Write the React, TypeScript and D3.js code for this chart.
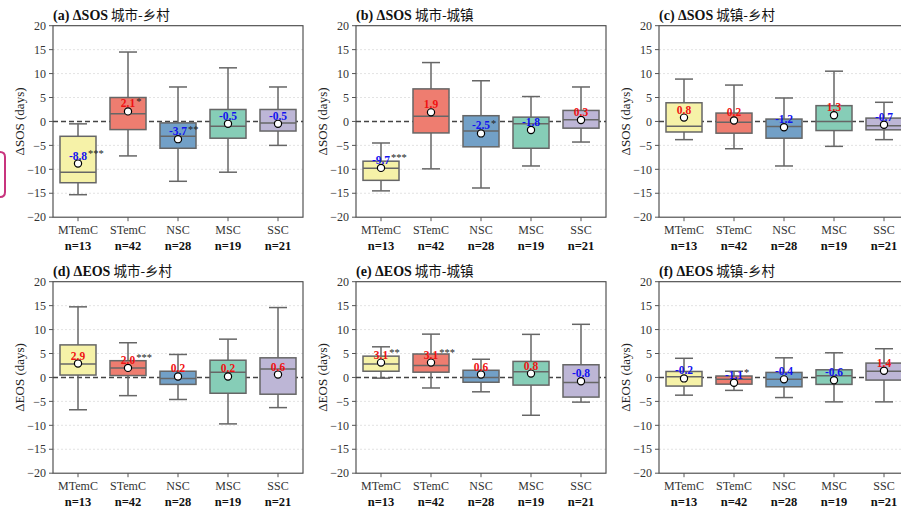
import React from "react";
import * as d3 from "d3";

const categories = ["MTemC", "STemC", "NSC", "MSC", "SSC"];
const sampleSizes = [13, 42, 28, 19, 21];
const yTicks = [-20, -15, -10, -5, 0, 5, 10, 15, 20];
const boxColors = ["#f6f2a8", "#ee7d70", "#72a0c7", "#86cdb7", "#bdb6d6"];

const panelLetters = ["(a)", "(b)", "(c)", "(d)", "(e)", "(f)"];
const panelVars = ["ΔSOS", "ΔSOS", "ΔSOS", "ΔEOS", "ΔEOS", "ΔEOS"];
const panelPairs = ["城市-乡村", "城市-城镇", "城镇-乡村", "城市-乡村", "城市-城镇", "城镇-乡村"];

// each row: [lower whisker, Q1, median, Q3, upper whisker]
const sosCityRural = [[-15.3, -12.8, -10.6, -3.1, -0.5], [-7.2, -1.7, 1.6, 5.0, 14.5], [-12.5, -5.6, -3.1, -0.3, 7.2], [-10.6, -3.5, -1.0, 2.5, 11.2], [-5.0, -2.0, -0.3, 2.5, 7.2]];
const sosCityTown = [[-14.5, -12.3, -9.75, -8.3, -4.5], [-9.9, -2.4, 1.1, 6.8, 12.3], [-13.9, -5.3, -2.0, 1.2, 8.5], [-9.3, -5.6, -0.5, 0.9, 5.2], [-4.3, -1.4, 0.35, 2.3, 7.2]];
const sosTownRural = [[-3.8, -2.2, -1.0, 3.9, 8.85], [-5.7, -2.45, -0.15, 1.75, 7.6], [-9.3, -3.5, -1.05, 0.5, 4.9], [-5.2, -1.9, 0.0, 3.3, 10.5], [-3.8, -1.75, -0.9, 0.7, 4.0]];
const eosCityRural = [[-6.75, 0.5, 2.8, 6.8, 14.75], [-3.8, 0.4, 2.0, 3.5, 7.25], [-4.6, -1.45, -0.2, 1.3, 4.8], [-9.7, -3.3, 1.1, 3.6, 8.0], [-6.3, -3.5, 1.75, 4.1, 14.6]];
const eosCityTown = [[-0.15, 1.3, 2.8, 4.45, 6.4], [-2.2, 1.1, 2.5, 4.9, 9.05], [-3.0, -1.0, 0.0, 1.5, 3.8], [-7.9, -1.6, 1.2, 3.35, 9.0], [-5.15, -4.1, -1.05, 2.65, 11.1]];
const eosTownRural = [[-3.7, -1.8, 0.15, 1.25, 4.0], [-2.7, -1.4, -0.35, 0.3, 1.3], [-4.2, -1.95, -0.4, 1.05, 4.1], [-5.1, -1.45, 0.35, 1.6, 5.15], [-5.1, -0.55, 1.3, 3.0, 6.0]];

const meansA = [-8.8, 2.1, -3.7, -0.5, -0.5];
const meansB = [-9.7, 1.9, -2.5, -1.8, 0.3];
const meansC = [0.8, 0.2, -1.2, 1.3, -0.7];
const meansD = [2.9, 2.0, 0.2, 0.2, 0.6];
const meansE = [3.1, 3.1, 0.6, 0.8, -0.8];
const meansF = [-0.2, -1.1, -0.4, -0.6, 1.4];

const starsA = ["***", "*", "**", "", ""];
const starsB = ["***", "", "*", "", ""];
const starsC = ["", "", "", "", ""];
const starsD = ["", "***", "", "", ""];
const starsE = ["**", "***", "", "", ""];
const starsF = ["", "*", "", "", ""];

const panelStats = [sosCityRural, sosCityTown, sosTownRural, eosCityRural, eosCityTown, eosTownRural];
const panelMeans = [meansA, meansB, meansC, meansD, meansE, meansF];
const panelStars = [starsA, starsB, starsC, starsD, starsE, starsF];

const SERIF = "'Liberation Serif', 'Times New Roman', serif";
const CJK = "'Noto Sans CJK SC', 'Noto Sans', sans-serif";

const charW: Record<string, number> = { "-": 0.333, ".": 0.25 };
function labelWidth(s: string, size: number) {
  let w = 0;
  for (const c of s) w += (charW[c] ?? 0.5) * size;
  return w;
}

function Panel({ idx }: { idx: number }) {
  const col = idx % 3;
  const row = Math.floor(idx / 3);
  const left = 53 + 303 * col;
  const top = 25.7 + 256 * row;
  const width = 250;
  const height = 191.5;
  const x = d3.scaleLinear().domain([-0.5, 4.5]).range([left, left + width]);
  const y = d3.scaleLinear().domain([-20, 20]).range([top + height, top]);
  const step = x(1) - x(0);
  const bw = step * 0.72;
  const cap = bw * 0.5;
  const stats = panelStats[idx];
  const means = panelMeans[idx];
  const stars = panelStars[idx];
  const fmt = (v: number) => (v < 0 ? "\u2212" : "") + Math.abs(v);
  const edge = "#666";
  const lblSize = 11.5;
  return (
    <g>
      {yTicks.filter((t) => t !== 0 && Math.abs(t) !== 20).map((t) => (
        <line key={"g" + t} x1={left} x2={left + width} y1={y(t)} y2={y(t)} stroke="#dcdcdc" strokeWidth={0.8} strokeDasharray="2,2" />
      ))}
      <line x1={left} x2={left + width} y1={y(0)} y2={y(0)} stroke="#444" strokeWidth={1.5} strokeDasharray="5,3" />
      {stats.map((s, i) => {
        const cx = x(i);
        const [lo, q1, med, q3, hi] = s;
        return (
          <g key={"b" + i}>
            <line x1={cx} x2={cx} y1={y(q3)} y2={y(hi)} stroke={edge} strokeWidth={1.5} />
            <line x1={cx} x2={cx} y1={y(q1)} y2={y(lo)} stroke={edge} strokeWidth={1.5} />
            <line x1={cx - cap / 2} x2={cx + cap / 2} y1={y(hi)} y2={y(hi)} stroke={edge} strokeWidth={1.5} />
            <line x1={cx - cap / 2} x2={cx + cap / 2} y1={y(lo)} y2={y(lo)} stroke={edge} strokeWidth={1.5} />
            <rect x={cx - bw / 2} y={y(q3)} width={bw} height={y(q1) - y(q3)} fill={boxColors[i]} stroke={edge} strokeWidth={1.5} />
            <line x1={cx - bw / 2} x2={cx + bw / 2} y1={y(med)} y2={y(med)} stroke={edge} strokeWidth={1.5} />
          </g>
        );
      })}
      {means.map((m, i) => {
        const cx = x(i);
        const my = y(m);
        const lbl = m.toFixed(1);
        const lw = labelWidth(lbl, lblSize);
        return (
          <g key={"m" + i}>
            <circle cx={cx} cy={my} r={3.6} fill="#fff" stroke="#000" strokeWidth={1.2} />
            <text x={cx} y={my - 4} textAnchor="middle" fontFamily={SERIF} fontWeight="bold" fontSize={lblSize} fill={m < 0 ? "#1212f0" : "#f01212"}>{lbl}</text>
            {stars[i] && (
              <text x={cx + lw / 2 + 1} y={my - 6.5} fontFamily={SERIF} fontSize={10.5} fill="#222">{stars[i]}</text>
            )}
          </g>
        );
      })}
      <rect x={left} y={top} width={width} height={height} fill="none" stroke="#444" strokeWidth={1.1} />
      {yTicks.map((t) => (
        <g key={"yt" + t}>
          <line x1={left - 4} x2={left} y1={y(t)} y2={y(t)} stroke="#555" strokeWidth={1} />
          <text x={left - 7} y={y(t)} dy="0.35em" textAnchor="end" fontFamily={SERIF} fontSize={12} fill="#333">{fmt(t)}</text>
        </g>
      ))}
      {categories.map((c, i) => (
        <g key={"xt" + c}>
          <line x1={x(i)} x2={x(i)} y1={top + height} y2={top + height + 4} stroke="#555" strokeWidth={1} />
          <text x={x(i)} y={top + height + 17} textAnchor="middle" fontFamily={SERIF} fontSize={12} fill="#333">{c}</text>
          <text x={x(i)} y={top + height + 33} textAnchor="middle" fontFamily={SERIF} fontWeight="bold" fontSize={12.5} fill="#111">{"n=" + sampleSizes[i]}</text>
        </g>
      ))}
      <text transform={`translate(${left - 34},${top + height / 2}) rotate(-90)`} textAnchor="middle" dy="0.35em" fontFamily={SERIF} fontSize={13} fill="#222">{panelVars[idx] + " (days)"}</text>
      <text x={left} y={top - 6} fontSize={14} fill="#111">
        <tspan fontFamily={SERIF} fontWeight="bold">{panelLetters[idx] + " " + panelVars[idx]}</tspan>
        <tspan fontFamily={CJK} fontSize={13.5}>{" " + panelPairs[idx]}</tspan>
      </text>
    </g>
  );
}

export default function App() {
  return (
    <div style={{ position: "absolute", left: 0, top: 0, width: 901, height: 512, background: "#fff" }}>
      <svg width={901} height={512} viewBox="0 0 901 512" style={{ display: "block" }}>
        <rect x={0} y={0} width={901} height={512} fill="#fff" />
        <path d="M0,152 Q5,152 5,157 L5,192 Q5,197 0,197" fill="none" stroke="#c8347e" strokeWidth={2} />
        {[0, 1, 2, 3, 4, 5].map((i) => (
          <Panel key={i} idx={i} />
        ))}
      </svg>
    </div>
  );
}
